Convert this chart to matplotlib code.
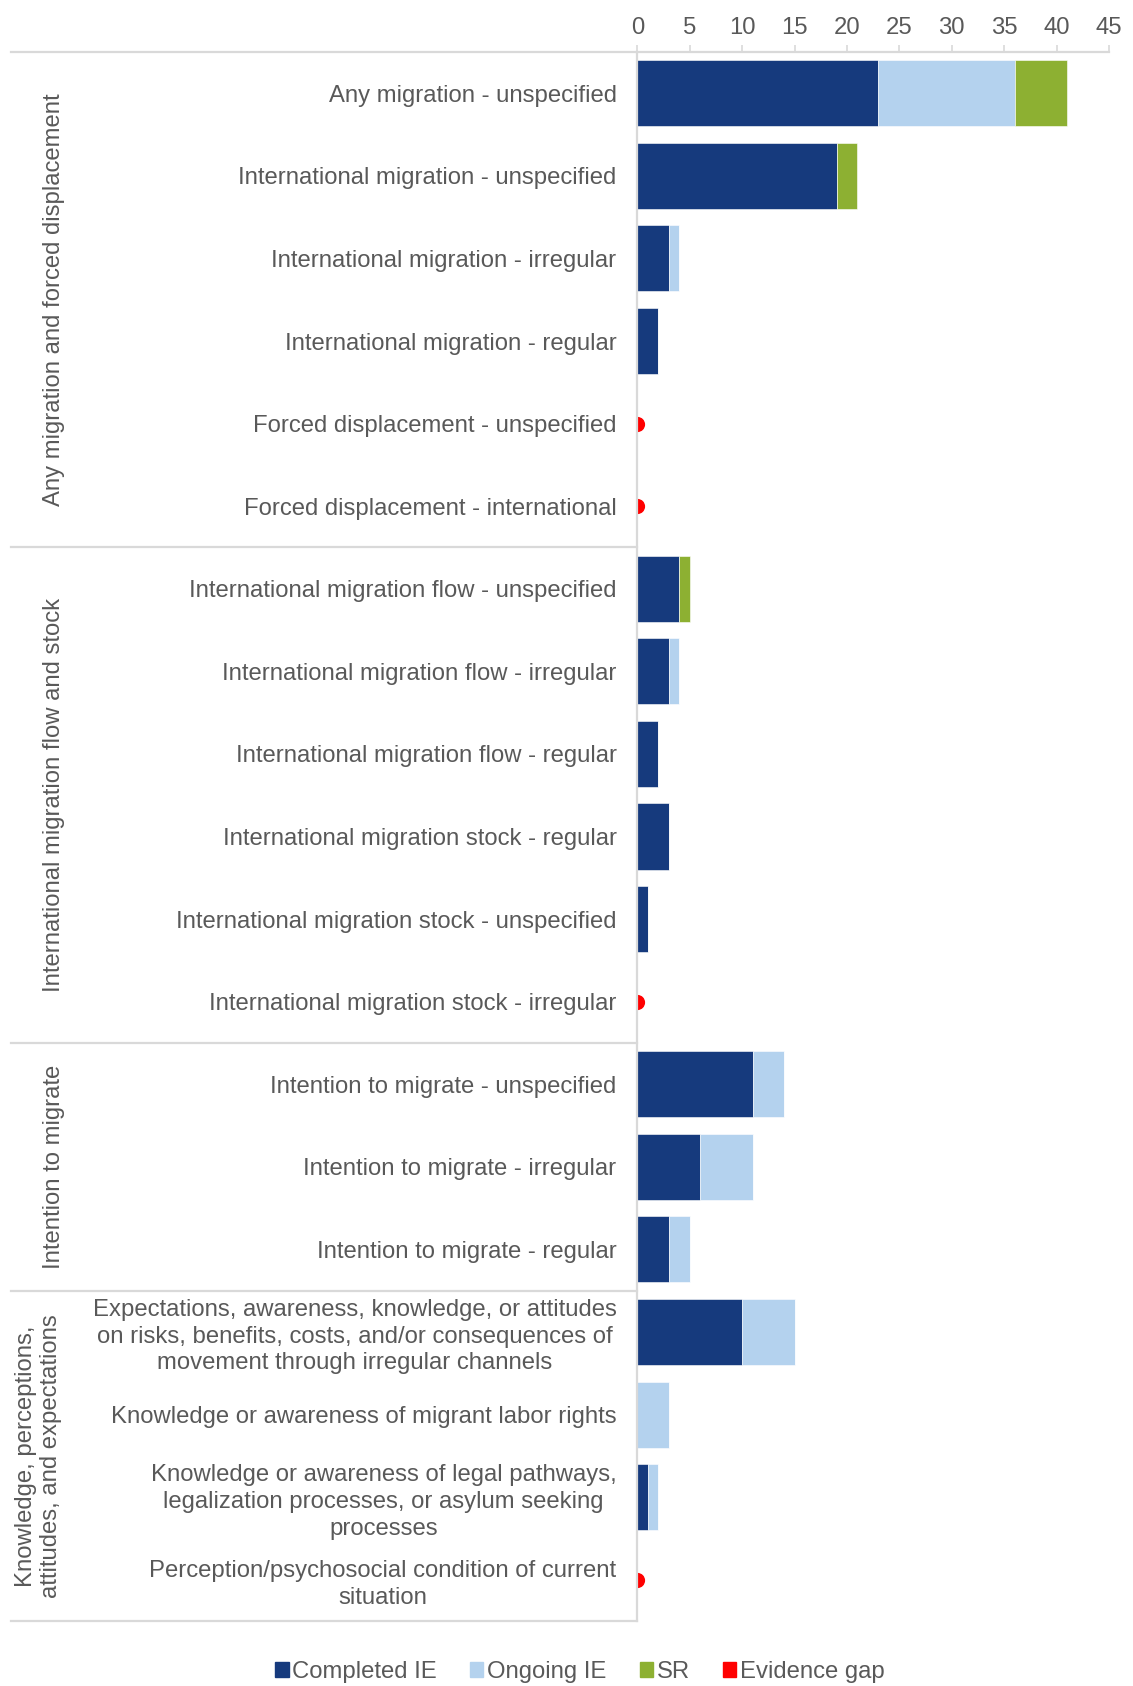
import matplotlib
matplotlib.use("Agg")
import matplotlib.pyplot as plt
from matplotlib.patches import Patch
import numpy as np

plt.rcParams['font.family'] = ['Liberation Sans', 'DejaVu Sans']

categories = [
    "Any migration - unspecified",
    "International migration - unspecified",
    "International migration - irregular",
    "International migration - regular",
    "Forced displacement - unspecified",
    "Forced displacement - international",
    "International migration flow - unspecified",
    "International migration flow - irregular",
    "International migration flow - regular",
    "International migration stock - regular",
    "International migration stock - unspecified",
    "International migration stock - irregular",
    "Intention to migrate - unspecified",
    "Intention to migrate - irregular",
    "Intention to migrate - regular",
    "Expectations, awareness, knowledge, or attitudes\non risks, benefits, costs, and/or consequences of\nmovement through irregular channels",
    "Knowledge or awareness of migrant labor rights",
    "Knowledge or awareness of legal pathways,\nlegalization processes, or asylum seeking\nprocesses",
    "Perception/psychosocial condition of current\nsituation",
]
completed = [23, 19, 3, 2, 0, 0, 4, 3, 2, 3, 1, 0, 11, 6, 3, 10, 0, 1, 0]
ongoing   = [13, 0, 1, 0, 0, 0, 0, 1, 0, 0, 0, 0, 3, 5, 2, 5, 3, 1, 0]
sr        = [5, 2, 0, 0, 0, 0, 1, 0, 0, 0, 0, 0, 0, 0, 0, 0, 0, 0, 0]
evidence_gap = [0, 0, 0, 0, 1, 1, 0, 0, 0, 0, 0, 1, 0, 0, 0, 0, 0, 0, 1]

groups = [
    ("Any migration and forced displacement", 0, 6),
    ("International migration flow and stock", 6, 12),
    ("Intention to migrate", 12, 15),
    ("Knowledge, perceptions,\nattitudes, and expectations", 15, 19),
]
xticks = [0, 5, 10, 15, 20, 25, 30, 35, 40, 45]

C_COMP = "#163A7D"
C_ONG = "#B4D2EE"
C_SR = "#8DB032"
C_GAP = "#FF0000"
TXT = "#595959"
GRID = "#D9D9D9"
FS = 17.2

W, H = 1133, 1686
fig = plt.figure(figsize=(W / 100, H / 100), dpi=100)
ax_l, ax_r, ax_t, ax_b = 637.4, 1109.0, 52.0, 1621.0
ax = fig.add_axes([ax_l / W, 1 - ax_b / H, (ax_r - ax_l) / W, (ax_b - ax_t) / H])

y = np.arange(len(categories))
comp = np.array(completed, float)
ong = np.array(ongoing, float)
s = np.array(sr, float)
bh = 0.8
ax.barh(y, comp, height=bh, color=C_COMP, edgecolor="white", linewidth=0.4, zorder=2)
ax.barh(y, ong, left=comp, height=bh, color=C_ONG, edgecolor="white", linewidth=0.4, zorder=2)
ax.barh(y, s, left=comp + ong, height=bh, color=C_SR, edgecolor="white", linewidth=0.4, zorder=2)
gy = [i for i, g in enumerate(evidence_gap) if g]
ax.scatter([0] * len(gy), gy, s=120, color=C_GAP, zorder=1, clip_on=True, linewidths=0)

ax.set_xlim(0, 45)
ax.set_ylim(len(categories) - 0.5, -0.5)
ax.set_xticks(xticks)
ax.set_xticklabels([str(t) for t in xticks])
ax.xaxis.tick_top()
ax.tick_params(axis='x', direction='out', length=5, width=1.2, color=GRID,
               labelsize=FS, labelcolor=TXT, pad=4)
ax.set_yticks(y)
ax.set_yticklabels(categories)
ax.tick_params(axis='y', length=0, pad=15, labelsize=FS, labelcolor=TXT)
for lab in ax.get_yticklabels():
    lab.set_multialignment('center')
    lab.set_linespacing(1.27)

for sp in ['right', 'bottom']:
    ax.spines[sp].set_visible(False)
for sp in ['left', 'top']:
    ax.spines[sp].set_color(GRID)
    ax.spines[sp].set_linewidth(1.6)
    ax.spines[sp].set_zorder(3)

# group separator lines extending left
x0 = (10.75 - ax_l) / (ax_r - ax_l)
trans = matplotlib.transforms.blended_transform_factory(ax.transAxes, ax.transData)
for b in [-0.5, 5.5, 11.5, 14.5, 18.5]:
    ax.plot([x0, 0], [b, b], transform=trans, color=GRID, lw=1.6, clip_on=False, zorder=3)

# group labels
for name, a, bnd in groups:
    yc = (a + bnd - 1) / 2
    xc = 38.7 if "\n" in name else 54
    xa = (xc - ax_l) / (ax_r - ax_l)
    ax.text(xa, yc, name, transform=trans, rotation=90, ha='center', va='center',
            fontsize=FS, color=TXT, multialignment='center', linespacing=1.17)

handles = [Patch(color=C_COMP, label="Completed IE"),
           Patch(color=C_ONG, label="Ongoing IE"),
           Patch(color=C_SR, label="SR"),
           Patch(color=C_GAP, label="Evidence gap")]
leg = fig.legend(handles=handles, loc='center', bbox_to_anchor=(580 / W, 1 - 1672 / H),
                 ncol=4, frameon=False, fontsize=FS, handlelength=0.55, handleheight=0.55,
                 handletextpad=0.15, columnspacing=1.4)
for t in leg.get_texts():
    t.set_color(TXT)

fig.savefig("out.png", dpi=100)
